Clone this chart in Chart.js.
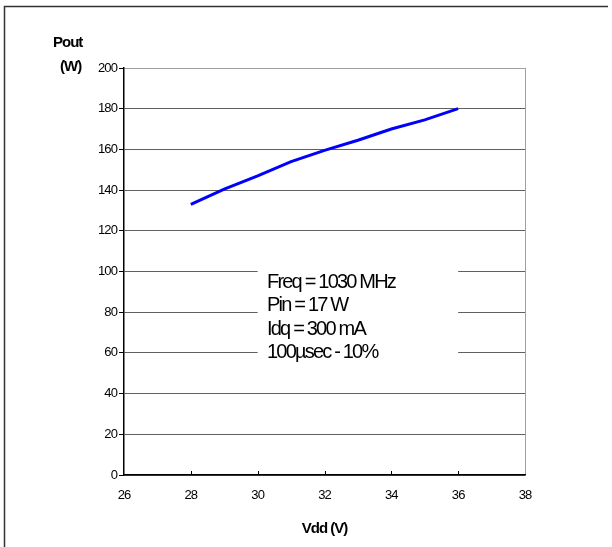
<!DOCTYPE html>
<html>
<head>
<meta charset="utf-8">
<script src="https://cdn.jsdelivr.net/npm/chart.js@4"></script>
<style>
html, body { margin: 0; padding: 0; background: #fff; }
</style>
</head>
<body>
<canvas id="poutChart" width="612" height="547"></canvas>
<script>
// data
const vddVolts = [28, 29, 30, 31, 32, 33, 34, 35, 36];
const poutWatts = [133, 140.5, 147, 154, 159.5, 164.5, 170, 174.5, 180];
const noteLines = ['Freq = 1030 MHz', 'Pin = 17 W', 'Idq = 300 mA', '100\u00b5sec - 10%'];
const yTitleLines = ['Pout', '(W)'];
const xTitle = 'Vdd (V)';

const ctx = document.getElementById('poutChart').getContext('2d');

// frame, note box, inward x ticks, axis titles
const decorPlugin = {
    id: 'decor',
    beforeDraw(chart) {
        const c = chart.ctx;
        c.save();
        c.fillStyle = '#fff';
        c.fillRect(0, 0, chart.width, chart.height);
        c.strokeStyle = '#333';
        c.lineWidth = 1.5;
        c.beginPath();
        c.moveTo(4.5, 547);
        c.lineTo(4.5, 6.5);
        c.lineTo(608, 6.5);
        c.stroke();
        c.restore();
        c.letterSpacing = '-0.9px';
    },
    afterDraw(chart) {
        const c = chart.ctx;
        const xs = chart.scales.x;
        const ys = chart.scales.y;
        const area = chart.chartArea;
        c.save();

        // small ticks pointing into the plot
        c.strokeStyle = '#000';
        c.lineWidth = 1;
        xs.ticks.forEach(function (t, i) {
            if (i === 0 || i === xs.ticks.length - 1) return;
            const px = Math.round(xs.getPixelForValue(t.value)) + 0.5;
            c.beginPath();
            c.moveTo(px, area.bottom);
            c.lineTo(px, area.bottom - 4);
            c.stroke();
        });

        // note box
        const bx1 = xs.getPixelForValue(30);
        const bx2 = xs.getPixelForValue(36);
        const by1 = ys.getPixelForValue(104);
        const by2 = ys.getPixelForValue(56);
        c.fillStyle = '#fff';
        c.fillRect(bx1, by1, bx2 - bx1, by2 - by1);

        c.fillStyle = '#000';
        c.font = '20px Arial, "Liberation Sans", sans-serif';
        c.letterSpacing = '-1.8px';
        c.textAlign = 'left';
        c.textBaseline = 'alphabetic';
        noteLines.forEach(function (line, i) {
            c.fillText(line, 267, 288 + i * 23.4);
        });

        // axis titles
        c.font = 'bold 15px Arial, "Liberation Sans", sans-serif';
        c.letterSpacing = '-1px';
        c.fillText(yTitleLines[0], 53, 47);
        c.fillText(yTitleLines[1], 60, 71);
        c.textAlign = 'center';
        c.fillText(xTitle, (area.left + area.right) / 2, 533);

        c.restore();
    }
};

const poutChart = new Chart(ctx, {
    type: 'line',
    data: {
        datasets: [{
            label: 'Pout',
            data: vddVolts.map(function (v, i) { return { x: v, y: poutWatts[i] }; }),
            borderColor: '#0000ff',
            borderWidth: 3,
            pointRadius: 0,
            tension: 0,
            fill: false
        }]
    },
    options: {
        responsive: false,
        animation: false,
        layout: { padding: { left: 0, top: 68, right: 87, bottom: 0 } },
        plugins: {
            legend: { display: false },
            tooltip: { enabled: false }
        },
        scales: {
            x: {
                type: 'linear',
                min: 26,
                max: 38,
                ticks: {
                    stepSize: 2,
                    color: '#000',
                    padding: 13,
                    font: { family: 'Arial, "Liberation Sans", sans-serif', size: 13 }
                },
                grid: {
                    drawTicks: false,
                    color: function (c) { return c.tick && c.tick.value === 38 ? '#a0a0a0' : 'rgba(0,0,0,0)'; }
                },
                border: { color: '#000', width: 1.5 },
                afterFit: function (s) { s.height = 72; }
            },
            y: {
                min: 0,
                max: 200,
                ticks: {
                    stepSize: 20,
                    color: '#000',
                    padding: 2,
                    font: { family: 'Arial, "Liberation Sans", sans-serif', size: 13 }
                },
                grid: {
                    tickLength: 5,
                    color: function (c) { return c.tick && c.tick.value === 200 ? '#a0a0a0' : '#606060'; },
                    tickColor: '#000'
                },
                border: { color: '#000', width: 1.5 },
                afterFit: function (s) { s.width = 124; }
            }
        }
    },
    plugins: [decorPlugin]
});
</script>
</body>
</html>
